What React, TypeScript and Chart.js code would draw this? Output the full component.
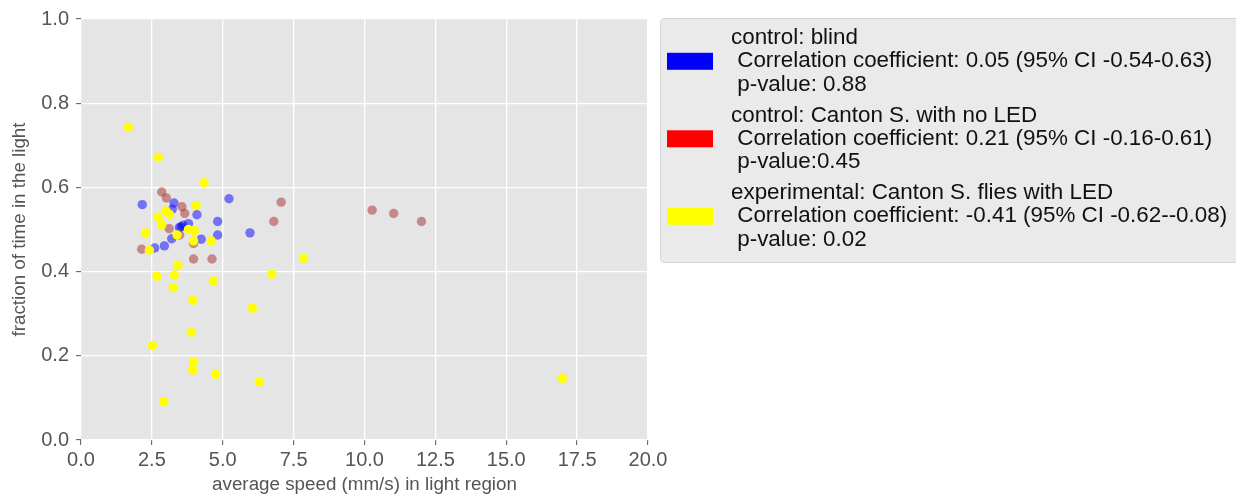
import React, { useEffect, useRef } from "react";
import { Chart, registerables } from "chart.js";

Chart.register(...registerables);

// average speed (mm/s) in light region vs. fraction of time in the light
const blindSpeed = [2.16, 3.28, 3.22, 4.09, 5.22, 4.82, 5.96, 4.82, 3.79, 3.53, 3.47, 3.6, 4.24, 3.2, 2.94, 2.6];
const blindFraction = [0.559, 0.563, 0.548, 0.535, 0.573, 0.519, 0.492, 0.487, 0.514, 0.506, 0.505, 0.51, 0.477, 0.478, 0.461, 0.456];

const noLedSpeed = [2.85, 3.01, 3.56, 3.66, 3.11, 3.48, 3.97, 2.14, 3.97, 4.62, 6.8, 7.06, 10.27, 11.03, 12.01];
const noLedFraction = [0.589, 0.575, 0.554, 0.538, 0.502, 0.487, 0.467, 0.453, 0.43, 0.43, 0.519, 0.565, 0.546, 0.538, 0.519];

const ledSpeed = [
  1.67, 2.73, 4.34, 4.06, 2.72, 3.0, 3.12, 2.85, 2.28, 3.79, 4.0, 3.39, 3.97, 4.59, 2.41, 3.42,
  2.68, 3.29, 3.25, 4.67, 6.73, 3.94, 6.05, 3.89, 2.52, 3.97, 3.94, 4.75, 6.28, 2.92, 7.85, 16.98,
];
const ledFraction = [
  0.743, 0.671, 0.611, 0.557, 0.529, 0.544, 0.536, 0.511, 0.492, 0.5, 0.497, 0.487, 0.473, 0.473, 0.451, 0.415,
  0.389, 0.392, 0.362, 0.378, 0.394, 0.332, 0.313, 0.256, 0.224, 0.186, 0.166, 0.156, 0.138, 0.091, 0.432, 0.146,
];

const groupNames = [
  "control: blind",
  "control: Canton S. with no LED",
  "experimental: Canton S. flies with LED",
];
const correlationLines = [
  " Correlation coefficient: 0.05 (95% CI -0.54-0.63)",
  " Correlation coefficient: 0.21 (95% CI -0.16-0.61)",
  " Correlation coefficient: -0.41 (95% CI -0.62--0.08)",
];
const pValueLines = [" p-value: 0.88", " p-value:0.45", " p-value: 0.02"];
const patchColors = ["#0000ff", "#ff0000", "#ffff00"];

const xTicks = [0, 2.5, 5, 7.5, 10, 12.5, 15, 17.5, 20];
const yTicks = [0, 0.2, 0.4, 0.6, 0.8, 1.0];

const FONT = "'Liberation Sans', Arial, Helvetica, sans-serif";

const toPoints = (xs: number[], ys: number[]) => xs.map((x, i) => ({ x, y: ys[i] }));

const panelBackground = {
  id: "panelBackground",
  beforeDraw(chart: any) {
    const { ctx, chartArea } = chart;
    ctx.save();
    ctx.fillStyle = "#e5e5e5";
    ctx.fillRect(chartArea.left, chartArea.top, chartArea.right - chartArea.left, chartArea.bottom - chartArea.top);
    ctx.restore();
  },
};

const sideLegend = {
  id: "sideLegend",
  afterDraw(chart: any) {
    const ctx = chart.ctx as CanvasRenderingContext2D;
    ctx.save();
    // frame
    ctx.beginPath();
    (ctx as any).roundRect(660.5, 18.5, 620, 244, 4);
    ctx.fillStyle = "#eaeaea";
    ctx.fill();
    ctx.strokeStyle = "#d4d4d4";
    ctx.lineWidth = 1;
    ctx.stroke();

    ctx.font = `22.4px ${FONT}`;
    ctx.fillStyle = "#111";
    ctx.textBaseline = "middle";
    ctx.textAlign = "left";
    const startY = 38;
    const lineStep = 23.3;
    const entryStep = 77.5;
    groupNames.forEach((name, i) => {
      const y0 = startY + i * entryStep;
      const lines = [name, correlationLines[i], pValueLines[i]];
      lines.forEach((t, j) => ctx.fillText(t, 731, y0 + j * lineStep));
      ctx.fillStyle = patchColors[i];
      ctx.fillRect(667, y0 + lineStep - 8.5, 46, 17);
      ctx.fillStyle = "#111";
    });
    ctx.restore();
  },
};

export default function App() {
  const canvasRef = useRef<HTMLCanvasElement | null>(null);

  useEffect(() => {
    document.body.style.margin = "0";
    const canvas = canvasRef.current;
    if (!canvas) return;
    const chart = new Chart(canvas, {
      type: "scatter",
      data: {
        datasets: [
          {
            label: groupNames[0],
            data: toPoints(blindSpeed, blindFraction),
            backgroundColor: "rgba(0,0,255,0.5)",
            borderWidth: 0,
            pointRadius: 4.7,
            pointHoverRadius: 4.7,
            order: 3,
          },
          {
            label: groupNames[1],
            data: toPoints(noLedSpeed, noLedFraction),
            backgroundColor: "rgba(165,42,42,0.5)",
            borderWidth: 0,
            pointRadius: 4.7,
            pointHoverRadius: 4.7,
            order: 2,
          },
          {
            label: groupNames[2],
            data: toPoints(ledSpeed, ledFraction),
            backgroundColor: "#ffff00",
            borderWidth: 0,
            pointRadius: 4.7,
            pointHoverRadius: 4.7,
            order: 1,
          },
        ],
      },
      options: {
        responsive: false,
        animation: false,
        layout: { padding: { left: 0, top: 19, right: 588, bottom: 0 } },
        plugins: {
          legend: { display: false },
          tooltip: { enabled: false },
        },
        scales: {
          x: {
            type: "linear",
            min: 0,
            max: 20,
            afterBuildTicks: (scale: any) => {
              scale.ticks = xTicks.map((v) => ({ value: v }));
            },
            afterFit: (scale: any) => {
              scale.height = 54;
              scale.paddingLeft = 0;
              scale.paddingRight = 0;
            },
            ticks: {
              color: "#555555",
              font: { family: FONT, size: 20 },
              padding: 3,
              maxRotation: 0,
              callback: (v: any) => Number(v).toFixed(1),
            },
            grid: { color: "#ffffff", lineWidth: 1.3, tickColor: "#555555", tickLength: 5, tickWidth: 1 },
            border: { display: false },
            title: {
              display: true,
              text: "average speed (mm/s) in light region",
              color: "#555555",
              font: { family: FONT, size: 18.8 },
              padding: { top: 0, bottom: -2 },
            },
          },
          y: {
            type: "linear",
            min: 0,
            max: 1,
            afterBuildTicks: (scale: any) => {
              scale.ticks = yTicks.map((v) => ({ value: v }));
            },
            afterFit: (scale: any) => {
              scale.width = 81;
              scale.paddingTop = 0;
              scale.paddingBottom = 0;
            },
            ticks: {
              color: "#555555",
              font: { family: FONT, size: 20 },
              padding: 7,
              callback: (v: any) => Number(v).toFixed(1),
            },
            grid: { color: "#ffffff", lineWidth: 1.3, tickColor: "#555555", tickLength: 5, tickWidth: 1 },
            border: { display: false },
            title: {
              display: true,
              text: "fraction of time in the light",
              color: "#555555",
              font: { family: FONT, size: 18.8 },
              padding: { top: 9, bottom: 0 },
            },
          },
        },
      },
      plugins: [panelBackground, sideLegend],
    });
    return () => chart.destroy();
  }, []);

  return (
    <div style={{ width: 1236, height: 494 }}>
      <canvas ref={canvasRef} width={1236} height={494} style={{ display: "block" }} />
    </div>
  );
}
